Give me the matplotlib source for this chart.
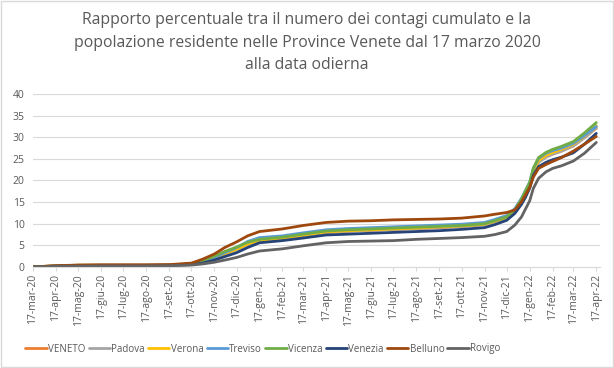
import matplotlib
matplotlib.use("Agg")
import matplotlib.pyplot as plt
from matplotlib.patches import Rectangle
import datetime as dt

plt.rcParams['font.family'] = ['Open Sans', 'DejaVu Sans']

dates = ["2020-03-17", "2020-04-17", "2020-05-17", "2020-06-17", "2020-07-17", "2020-08-17",
         "2020-09-17", "2020-10-17", "2020-11-01", "2020-11-17", "2020-12-01", "2020-12-17",
         "2021-01-01", "2021-01-17", "2021-02-17", "2021-03-17", "2021-04-17", "2021-05-17",
         "2021-06-17", "2021-07-17", "2021-08-17", "2021-09-17", "2021-10-17", "2021-11-17",
         "2021-12-01", "2021-12-17", "2021-12-28", "2022-01-06", "2022-01-11", "2022-01-17",
         "2022-01-22", "2022-01-29", "2022-02-08", "2022-02-17", "2022-03-01", "2022-03-17",
         "2022-04-01", "2022-04-17"]

veneto = [0, 0.3, 0.4, 0.4, 0.4, 0.4, 0.45, 0.7, 1.2, 2.1, 3.1, 4.1, 5.3, 6.1, 6.6, 7.3, 8.0, 8.3,
          8.5, 8.7, 8.9, 9.1, 9.4, 9.8, 10.5, 11.4, 12.9, 15.2, 16.9, 18.9, 22.0, 24.3, 25.5, 26.1,
          26.8, 28.0, 29.9, 32.1]
padova = [0, 0.3, 0.4, 0.45, 0.45, 0.45, 0.5, 0.7, 1.2, 2.0, 3.0, 4.0, 5.2, 6.1, 6.6, 7.3, 8.0, 8.3,
          8.5, 8.7, 8.9, 9.2, 9.4, 9.8, 10.5, 11.4, 12.9, 15.2, 16.9, 18.8, 21.9, 24.2, 25.4, 26.1,
          26.8, 28.0, 29.9, 32.2]
verona = [0, 0.3, 0.4, 0.4, 0.4, 0.4, 0.45, 0.65, 1.1, 2.0, 3.0, 4.1, 5.3, 6.2, 6.7, 7.4, 8.1, 8.4,
          8.6, 8.8, 9.0, 9.3, 9.5, 9.9, 10.6, 11.5, 13.0, 15.4, 17.1, 19.1, 22.3, 24.6, 25.8, 26.5,
          27.2, 28.4, 30.3, 32.7]
treviso = [0, 0.25, 0.35, 0.4, 0.4, 0.4, 0.45, 0.7, 1.2, 2.2, 3.3, 4.5, 5.9, 6.8, 7.2, 7.9, 8.6, 8.9,
           9.1, 9.3, 9.5, 9.7, 9.9, 10.3, 11.0, 11.9, 13.5, 15.9, 17.6, 19.6, 22.8, 25.1, 26.3, 26.9,
           27.5, 28.6, 30.4, 32.5]
vicenza = [0, 0.2, 0.3, 0.35, 0.35, 0.35, 0.4, 0.75, 1.4, 2.5, 3.6, 4.6, 5.7, 6.4, 6.9, 7.6, 8.3, 8.6,
           8.8, 9.0, 9.2, 9.4, 9.6, 10.0, 10.7, 11.6, 13.2, 15.7, 17.5, 19.6, 22.9, 25.3, 26.5, 27.2,
           27.9, 29.0, 31.0, 33.4]
venezia = [0, 0.2, 0.3, 0.3, 0.3, 0.3, 0.35, 0.55, 0.9, 1.6, 2.4, 3.3, 4.5, 5.6, 6.1, 6.7, 7.4, 7.6,
           7.8, 8.0, 8.2, 8.4, 8.7, 9.1, 9.8, 10.8, 12.4, 14.5, 16.0, 18.2, 21.2, 23.2, 24.2, 24.8,
           25.4, 26.4, 28.4, 30.9]
belluno = [0, 0.3, 0.45, 0.5, 0.5, 0.5, 0.55, 0.9, 1.8, 3.0, 4.5, 5.8, 7.2, 8.2, 8.8, 9.6, 10.3, 10.6,
           10.7, 10.9, 11.0, 11.1, 11.3, 11.8, 12.2, 12.6, 13.2, 15.1, 16.6, 18.4, 20.8, 22.8, 23.7,
           24.4, 25.3, 26.8, 28.4, 30.2]
rovigo = [0, 0.15, 0.2, 0.25, 0.25, 0.25, 0.3, 0.45, 0.7, 1.1, 1.6, 2.2, 3.0, 3.7, 4.2, 4.9, 5.6, 5.9,
          6.0, 6.1, 6.4, 6.6, 6.8, 7.1, 7.5, 8.2, 9.7, 11.6, 13.3, 15.3, 18.2, 20.5, 22.0, 22.8,
          23.4, 24.5, 26.3, 28.8]

series_names = ["VENETO", "Padova", "Verona", "Treviso", "Vicenza", "Venezia", "Belluno", "Rovigo"]
series_vals = [veneto, padova, verona, treviso, vicenza, venezia, belluno, rovigo]
colors = ["#ED7D31", "#A5A5A5", "#FFC000", "#5B9BD5", "#70AD47", "#264478", "#9E480E", "#636363"]

tick_dates = ["2020-03-17", "2020-04-17", "2020-05-17", "2020-06-17", "2020-07-17", "2020-08-17",
              "2020-09-17", "2020-10-17", "2020-11-17", "2020-12-17", "2021-01-17", "2021-02-17",
              "2021-03-17", "2021-04-17", "2021-05-17", "2021-06-17", "2021-07-17", "2021-08-17",
              "2021-09-17", "2021-10-17", "2021-11-17", "2021-12-17", "2022-01-17", "2022-02-17",
              "2022-03-17", "2022-04-17"]
tick_labels = ["17-mar-20", "17-apr-20", "17-mag-20", "17-giu-20", "17-lug-20", "17-ago-20",
               "17-set-20", "17-ott-20", "17-nov-20", "17-dic-20", "17-gen-21", "17-feb-21",
               "17-mar-21", "17-apr-21", "17-mag-21", "17-giu-21", "17-lug-21", "17-ago-21",
               "17-set-21", "17-ott-21", "17-nov-21", "17-dic-21", "17-gen-22", "17-feb-22",
               "17-mar-22", "17-apr-22"]

title = ("Rapporto percentuale tra il numero dei contagi cumulato e la\n"
         "popolazione residente nelle Province Venete dal 17 marzo 2020\n"
         "alla data odierna")

x = [dt.datetime.strptime(d, "%Y-%m-%d") for d in dates]
xt = [dt.datetime.strptime(d, "%Y-%m-%d") for d in tick_dates]

fig = plt.figure(figsize=(6.14, 3.68), dpi=100)
ax = fig.add_axes([33/614, 1-267/368, (600-33)/614, (267-94)/368])

for name, vals, c in zip(series_names, series_vals, colors):
    ax.plot(x, vals, color=c, lw=2.0, label=name, solid_capstyle='round')

ax.set_ylim(0, 40)
ax.set_yticks(range(0, 41, 5))
ax.set_xlim(xt[0], xt[-1] + dt.timedelta(days=5))
ax.set_xticks(xt)
ax.set_xticklabels(tick_labels, rotation=90, fontsize=7.5, color="#595959")
ax.tick_params(axis='y', length=0, labelsize=7.5, labelcolor="#595959", pad=6)
ax.tick_params(axis='x', length=3, color="#d9d9d9", pad=2)
ax.grid(axis='y', color="#d9d9d9", lw=0.8)
ax.set_axisbelow(True)
for s in ["top", "right", "left"]:
    ax.spines[s].set_visible(False)
ax.spines["bottom"].set_color("#d9d9d9")

fig.text(0.5, 1-12/368, title, ha='center', va='top', fontsize=11.3, color="#595959",
         linespacing=1.55)

leg = fig.legend(loc='center', bbox_to_anchor=(263/614, 1-349/368), ncol=8, frameon=False,
                 fontsize=7.0, handlelength=2.2, handletextpad=0.15, columnspacing=0.3,
                 labelcolor="#595959")

fig.patches.append(Rectangle((0.002, 0.003), 0.996, 0.994, transform=fig.transFigure,
                             fill=False, edgecolor="#d9d9d9", lw=1))

fig.savefig("out.png", dpi=100)
